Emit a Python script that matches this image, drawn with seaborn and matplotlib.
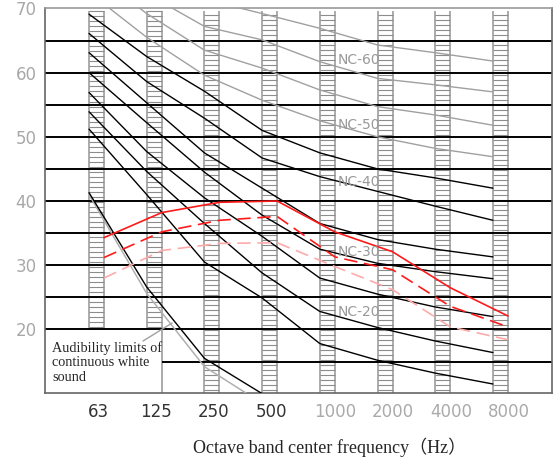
import matplotlib
matplotlib.use("Agg")
import matplotlib.pyplot as plt
import seaborn as sns
import numpy as np

# octave bands
bands = ['63', '125', '250', '500', '1000', '2000', '4000', '8000']

# NC curves (dB), black ones
nc15 = [51.2, 41.0, 30.5, 24.9, 17.8, 15.2, 13.2, 11.5]
nc20 = [53.9, 44.6, 36.5, 28.8, 22.8, 20.3, 18.2, 16.4]
nc25 = [56.9, 47.7, 40.5, 34.5, 28.0, 25.5, 23.5, 22.0]
nc30 = [60.0, 52.2, 44.5, 37.8, 32.5, 30.3, 29.0, 27.9]
nc35 = [63.1, 55.3, 47.5, 42.0, 36.5, 34.0, 32.5, 31.3]
nc40 = [66.1, 58.6, 52.9, 46.7, 43.8, 41.5, 39.2, 37.0]
nc45 = [69.1, 62.5, 57.1, 51.0, 47.5, 45.0, 43.6, 42.0]
# grey ones (partly above the frame)
nc50 = [72.5, 65.5, 59.6, 55.7, 52.5, 50.0, 48.2, 46.9]
nc55 = [76.0, 69.2, 63.5, 60.7, 57.3, 54.7, 53.4, 51.8]
nc60 = [79.0, 72.3, 67.2, 65.1, 61.7, 59.1, 58.1, 57.0]
nc65 = [82.0, 76.0, 71.4, 69.2, 66.9, 64.3, 63.1, 61.8]

# measured spectra
red_solid = [34.3, 38.2, 39.8, 40.0, 35.2, 32.1, 26.5, 22.1]
red_dash = [31.2, 35.2, 37.0, 37.6, 31.3, 29.3, 23.6, 20.4]
pink_dash = [28.0, 32.3, 33.4, 33.5, 29.8, 26.2, 20.4, 18.4]

# audibility limit of continuous white sound (63-500 Hz)
aud_black = [41.3, 26.6, 15.5, 10.0]
aud_grey = [41.0, 25.6, 14.2, 8.5]

nc_labels = ['NC-60', 'NC-50', 'NC-40', 'NC-30', 'NC-20']
nc_label_y = [62.0, 51.8, 43.0, 32.1, 22.7]

sns.set_style("white")
plt.rcParams['font.family'] = ['DejaVu Sans']

W, H = 553, 466
fig = plt.figure(figsize=(W / 100, H / 100), dpi=100)
ax = fig.add_axes([45 / W, 73 / H, 507 / W, 384.6 / H])
ax.set_xlim(-0.893, 7.894)
ax.set_ylim(10.1, 70)

idx = np.arange(len(bands))
hw = 0.13  # half width of the band columns
ytop = 69.6
grey = '#a5a5a5'

# ladder-like band columns
for i in idx:
    ybot = 20 if i < 2 else 10.1
    ax.vlines([i - hw, i + hw], ybot, ytop, color=grey, lw=1.3, zorder=1)
    ax.hlines(np.arange(ybot + 0.4, ytop, 0.78), i - hw, i + hw, color='#8c8c8c', lw=0.8, zorder=1)
ax.vlines(1 + hw, 10.1, 20, color=grey, lw=1.3, zorder=1)

# horizontal grid
for yy in range(20, 70, 5):
    ax.axhline(yy, color='black', lw=1.4, zorder=2)
ax.hlines(15, 1 + hw, 7.894, color='black', lw=1.4, zorder=2)

# NC curves (drawn on the left edge of each column)
xl = idx - hw
for vals in [nc50, nc55, nc60, nc65]:
    sns.lineplot(x=xl, y=vals, ax=ax, color='#a0a0a0', lw=1.0, zorder=3)
for vals in [nc15, nc20, nc25, nc30, nc35, nc40, nc45]:
    sns.lineplot(x=xl, y=vals, ax=ax, color='black', lw=1.0, zorder=3)

sns.lineplot(x=xl[:4], y=aud_grey, ax=ax, color='#b0b0b0', lw=1.1, zorder=3)
sns.lineplot(x=xl[:4], y=aud_black, ax=ax, color='black', lw=1.0, zorder=3)

# spectra (drawn on the right edge of each column)
xr = idx + hw
sns.lineplot(x=xr, y=pink_dash, ax=ax, color='#ffaaaa', lw=1.2, linestyle=(0, (8, 4)), zorder=4)
sns.lineplot(x=xr, y=red_dash, ax=ax, color='#ff1a1a', lw=1.2, linestyle=(0, (8, 4)), zorder=4)
sns.lineplot(x=xr, y=red_solid, ax=ax, color='#ff1a1a', lw=1.2, zorder=4)

for lab, yy in zip(nc_labels, nc_label_y):
    ax.text(4.17, yy, lab, color='#999999', fontsize=10, va='center', ha='left', zorder=5)

# audibility note
ax.text(-0.77, 18.2, 'Audibility limits of\ncontinuous white\nsound', fontsize=10.3,
        family=['Liberation Serif'], va='top', ha='left', linespacing=1.15, zorder=5)
ax.plot([0.806, 1.31], [18.2, 21.0], color='#a0a0a0', lw=1, zorder=5)

# axes styling
ax.set_yticks([20, 30, 40, 50, 60, 70])
ax.set_yticklabels(['20', '30', '40', '50', '60', '70'])
ax.tick_params(axis='y', length=0, pad=6, labelsize=12, labelcolor='#a8a8a8')
xt = idx + np.where(idx < 4, 0.03, 0.14)
ax.set_xticks(xt)
ax.set_xticklabels(bands)
ax.tick_params(axis='x', length=0, pad=7, labelsize=12)
for i, t in enumerate(ax.get_xticklabels()):
    t.set_color('#333333' if i < 4 else '#aaaaaa')
ax.set_xlabel('')
ax.set_ylabel('')
for s in ax.spines.values():
    s.set_color('#666666')
    s.set_linewidth(1.2)
ax.spines['top'].set_color('#999999')

fig.text(330 / W, 1 - 447 / H, 'Octave band center frequency（Hz）', fontsize=13,
         family=['Liberation Serif', 'Noto Sans CJK SC'], ha='center', va='center')

fig.savefig('out.png', dpi=100)
